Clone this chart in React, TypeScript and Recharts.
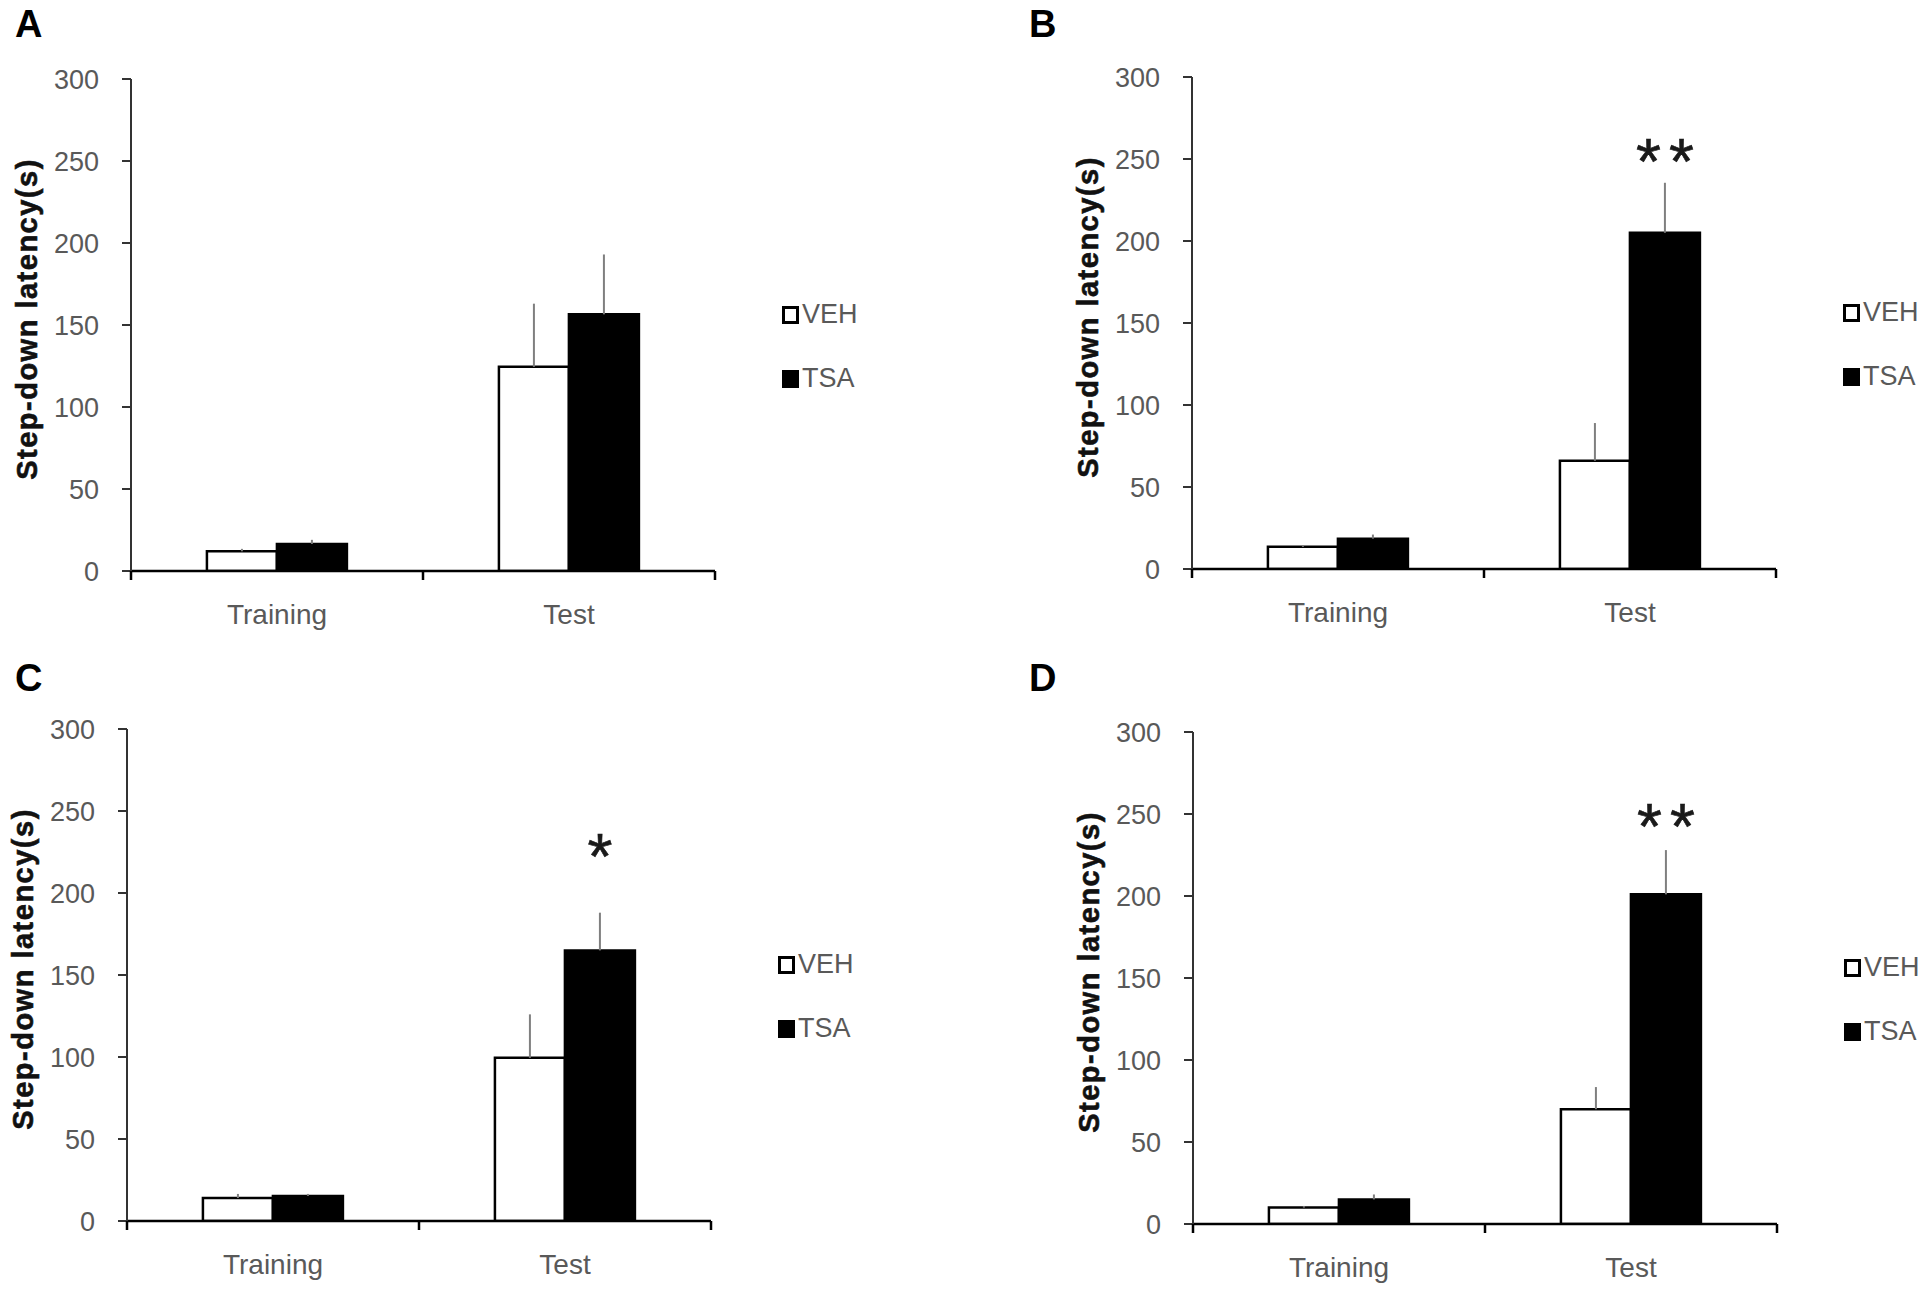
import React from "react";
import {
  BarChart,
  Bar,
  XAxis,
  YAxis,
  ErrorBar,
  Legend,
  LabelList,
  Label,
} from "recharts";

// ---- data ----
const categories = ["Training", "Test"];
const groups = ["VEH", "TSA"];
const yTicks = [0, 50, 100, 150, 200, 250, 300];

const vehA = [12, 124.5];
const vehErrA = [1.5, 38.5];
const tsaA = [16.5, 156.5];
const tsaErrA = [2.5, 36.5];
const sigA = ["", ""];
const sigPosA = [0, 0];

const vehB = [13.5, 66];
const vehErrB = [1, 23];
const tsaB = [18.5, 205];
const tsaErrB = [2.5, 30.5];
const sigB = ["", "**"];
const sigPosB = [0, 257];

const vehC = [14, 99.5];
const vehErrC = [2.5, 26.5];
const tsaC = [15.3, 165];
const tsaErrC = [1.2, 23];
const sigC = ["", "*"];
const sigPosC = [0, 231];

const vehD = [10, 70];
const vehErrD = [1, 13.5];
const tsaD = [15, 201];
const tsaErrD = [3, 27];
const sigD = ["", "**"];
const sigPosD = [0, 251];

// ---- layout ----
const SANS = "'Liberation Sans', Arial, Helvetica, sans-serif";
const GREY = "#595959";
const PLOT_W = 584;
const PLOT_H = 492;
const Y_AXIS_W = 131;
const TOP_M = 60;
const RIGHT_M = 200;
const X_AXIS_H = 80;
const BAND_HALF = PLOT_W / categories.length / 2;
const STAR_SIZE = 64;

type Row = {
  cat: string;
  veh: number;
  vehErr: number[];
  tsa: number;
  tsaErr: number[];
  sig: string;
  sigPos: number;
};

function buildRows(
  veh: number[],
  vehErr: number[],
  tsa: number[],
  tsaErr: number[],
  sig: string[],
  sigPos: number[]
): Row[] {
  return categories.map((cat, i) => ({
    cat,
    veh: veh[i],
    vehErr: [0, vehErr[i]],
    tsa: tsa[i],
    tsaErr: [0, tsaErr[i]],
    sig: sig[i],
    sigPos: sigPos[i],
  }));
}

const panels = [
  { letter: "A", left: 131, top: 79, rows: buildRows(vehA, vehErrA, tsaA, tsaErrA, sigA, sigPosA) },
  { letter: "B", left: 1192, top: 77, rows: buildRows(vehB, vehErrB, tsaB, tsaErrB, sigB, sigPosB) },
  { letter: "C", left: 127, top: 729, rows: buildRows(vehC, vehErrC, tsaC, tsaErrC, sigC, sigPosC) },
  { letter: "D", left: 1193, top: 732, rows: buildRows(vehD, vehErrD, tsaD, tsaErrD, sigD, sigPosD) },
];

const letterPos = [
  { letter: "A", x: 15, y: 37 },
  { letter: "B", x: 1029, y: 37 },
  { letter: "C", x: 15, y: 691 },
  { letter: "D", x: 1029, y: 691 },
];

// category tick: label in the middle, tick marks on the band edges
const XTick = (props: any) => {
  const { x, y, payload, index } = props;
  return (
    <g>
      {index === 0 && (
        <line x1={x - BAND_HALF} x2={x - BAND_HALF} y1={y} y2={y + 9} stroke="#000" strokeWidth={2.5} />
      )}
      <line x1={x + BAND_HALF} x2={x + BAND_HALF} y1={y} y2={y + 9} stroke="#000" strokeWidth={2.5} />
      <text x={x} y={y + 53} textAnchor="middle" fill={GREY} fontSize={28} fontFamily={SANS}>
        {payload.value}
      </text>
    </g>
  );
};

const YTitle = (props: any) => {
  const vb = props.viewBox || {};
  const cx = vb.x + vb.width - 104;
  const cy = vb.y + vb.height / 2 - 6;
  return (
    <text
      x={cx}
      y={cy}
      transform={`rotate(-90 ${cx} ${cy})`}
      textAnchor="middle"
      dominantBaseline="central"
      fontFamily={SANS}
      fontWeight="bold"
      fontSize={29}
      letterSpacing={1.5}
      fill="#111"
      stroke="#111"
      strokeWidth={0.6}
    >
      Step-down latency(s)
    </text>
  );
};

const LegendBox = (props: any) => {
  const items = [...(props.payload || [])].sort(
    (a: any, b: any) => groups.indexOf(a.value) - groups.indexOf(b.value)
  );
  return (
    <div style={{ fontFamily: SANS }}>
      {items.map((entry: any) => (
        <div
          key={entry.value}
          style={{ display: "flex", alignItems: "center", height: 64 }}
        >
          <div
            style={{
              width: 17,
              height: 18,
              boxSizing: "border-box",
              border: "3px solid #000",
              background: entry.color,
            }}
          />
          <span style={{ marginLeft: 3, fontSize: 27, color: GREY, lineHeight: 1 }}>
            {entry.value}
          </span>
        </div>
      ))}
    </div>
  );
};

function makeSigLabel(rows: Row[]) {
  return (props: any) => {
    const vb = props.viewBox || props;
    const row = rows[props.index];
    if (!row || !row.sig) return null;
    const x = vb.x ?? props.x;
    const y = vb.y ?? props.y;
    const width = vb.width ?? props.width;
    const height = vb.height ?? props.height;
    const zeroY = y + height;
    const pxPerUnit = height / row.tsa;
    const cy = zeroY - row.sigPos * pxPerUnit;
    return (
      <text
        x={x + width / 2}
        y={cy + 0.575 * STAR_SIZE}
        dx={4}
        textAnchor="middle"
        fontFamily={SANS}
        fontSize={STAR_SIZE}
        letterSpacing={8}
        fill="#1a1a1a"
        stroke="#1a1a1a"
        strokeWidth={0.6}
      >
        {row.sig}
      </text>
    );
  };
}

function Panel({ left, top, rows }: { left: number; top: number; rows: Row[] }) {
  const width = Y_AXIS_W + PLOT_W + RIGHT_M;
  const height = TOP_M + PLOT_H + X_AXIS_H;
  return (
    <div style={{ position: "absolute", left: left - Y_AXIS_W, top: top - TOP_M }}>
      <BarChart
        width={width}
        height={height}
        data={rows}
        margin={{ top: TOP_M, right: RIGHT_M, bottom: 0, left: 0 }}
        barCategoryGap="26%"
        barGap={0}
      >
        <XAxis
          dataKey="cat"
          height={X_AXIS_H}
          interval={0}
          tickLine={false}
          tickSize={0}
          tickMargin={0}
          tick={<XTick />}
          axisLine={{ stroke: "#000", strokeWidth: 2.5 }}
        />
        <YAxis
          width={Y_AXIS_W}
          domain={[0, 300]}
          ticks={yTicks}
          interval={0}
          allowDataOverflow
          tickSize={9}
          tickMargin={23}
          tick={{ fill: GREY, fontSize: 27, fontFamily: SANS }}
          tickLine={{ stroke: "#333", strokeWidth: 2 }}
          axisLine={{ stroke: "#333", strokeWidth: 2 }}
        >
          <Label content={<YTitle />} />
        </YAxis>
        <Legend
          layout="vertical"
          align="center"
          verticalAlign="middle"
          itemSorter={null}
          content={<LegendBox />}
          wrapperStyle={{ left: Y_AXIS_W + 651, top: TOP_M + 235.5 - 32, width: 120 }}
        />
        <Bar
          dataKey="veh"
          name="VEH"
          fill="#ffffff"
          stroke="#000"
          strokeWidth={2.5}
          isAnimationActive={false}
        >
          <ErrorBar dataKey="vehErr" width={0} stroke="#7f7f7f" strokeWidth={2} direction="y" />
        </Bar>
        <Bar
          dataKey="tsa"
          name="TSA"
          fill="#000000"
          stroke="#000"
          strokeWidth={2.5}
          isAnimationActive={false}
        >
          <ErrorBar dataKey="tsaErr" width={0} stroke="#7f7f7f" strokeWidth={2} direction="y" />
          <LabelList dataKey="sig" content={makeSigLabel(rows)} />
        </Bar>
      </BarChart>
    </div>
  );
}

export default function App() {
  return (
    <div
      style={{
        position: "absolute",
        left: 0,
        top: 0,
        width: 1930,
        height: 1297,
        background: "#fff",
        overflow: "hidden",
      }}
    >
      <svg width={1930} height={1297} style={{ position: "absolute", left: 0, top: 0 }}>
        {letterPos.map((p) => (
          <text
            key={p.letter}
            x={p.x}
            y={p.y}
            fontFamily={SANS}
            fontWeight="bold"
            fontSize={38}
            fill="#000"
          >
            {p.letter}
          </text>
        ))}
      </svg>
      {panels.map((p) => (
        <Panel key={p.letter} left={p.left} top={p.top} rows={p.rows} />
      ))}
    </div>
  );
}
